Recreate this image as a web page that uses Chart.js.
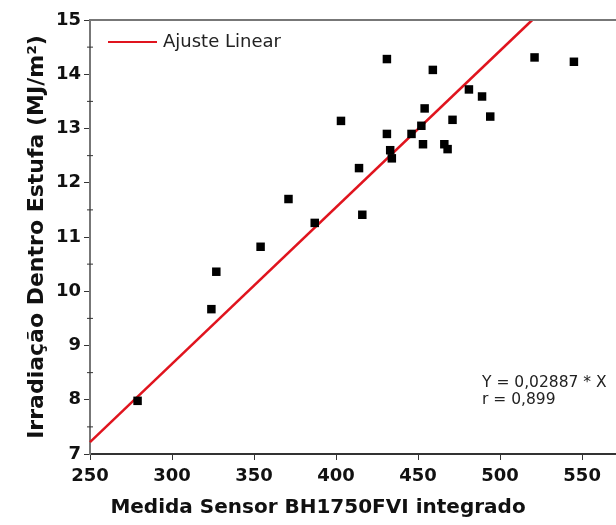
<!DOCTYPE html>
<html>
<head>
<meta charset="utf-8">
<script src="https://cdn.jsdelivr.net/npm/chart.js@4"></script>
<style>
  html, body { margin: 0; padding: 0; background: #fff; overflow: hidden; }
  canvas { display: block; }
</style>
</head>
<body>
<canvas id="scatter-chart" width="616" height="525"></canvas>
<script>
const ctx = document.getElementById("scatter-chart");

// measured points (sensor reading vs irradiation)
const sensorX = [279, 324, 327, 354, 371, 387, 416, 414, 403, 431, 459, 431, 433, 434, 446, 452,
  454, 453, 466, 468, 471, 481, 489, 494, 521, 545];
const irradY = [7.98, 9.67, 10.36, 10.82, 11.7, 11.26, 11.41, 12.27, 13.14, 14.28, 14.08, 12.9, 12.6,
  12.45, 12.9, 13.05, 13.37, 12.71, 12.71, 12.62, 13.16, 13.72, 13.59, 13.22, 14.31, 14.23];

// fitted line end points (Y = 0,02887 * X)
const fitX = [250, 519.6];
const fitY = [7.22, 15];

const xTicks = [250, 300, 350, 400, 450, 500, 550];
const yTicks = [7, 8, 9, 10, 11, 12, 13, 14, 15];

const xTitle = "Medida Sensor BH1750FVI integrado";
const yTitle = "Irradiação Dentro Estufa (MJ/m²)";

const Config = {
  colors: {
    point: "#000000",
    fit: "#e0141e",
    axis: "#333333",
    axisLight: "#777777",
    text: "#111111",
  },
  font: `"DejaVu Sans", sans-serif`,
};

Chart.defaults.font.family = Config.font;
Chart.defaults.color = Config.colors.text;

const frame = {
  id: "frame",
  afterDraw(chart) {
    const c = chart.ctx;
    const { left, right, top, bottom } = chart.chartArea;
    const ys = chart.scales.y;
    c.save();
    // top border, runs off the right edge like the original
    c.strokeStyle = Config.colors.axisLight;
    c.lineWidth = 2;
    c.beginPath();
    c.moveTo(left, top);
    c.lineTo(chart.width, top);
    c.stroke();
    c.strokeStyle = Config.colors.axis;
    c.beginPath();
    c.moveTo(right - 1, bottom);
    c.lineTo(chart.width, bottom);
    c.stroke();
    // minor ticks on the y axis
    c.lineWidth = 1;
    for (let i = 0; i < yTicks.length - 1; i++) {
      const py = ys.getPixelForValue(yTicks[i] + 0.5);
      c.beginPath();
      c.moveTo(left - 3, py);
      c.lineTo(left + 3, py);
      c.stroke();
    }
    // legend
    c.strokeStyle = Config.colors.fit;
    c.lineWidth = 2;
    c.beginPath();
    c.moveTo(108, 42);
    c.lineTo(157, 42);
    c.stroke();
    c.fillStyle = "#222";
    c.font = `18px ${Config.font}`;
    c.textBaseline = "middle";
    c.fillText(chart.data.datasets[1].label, 163, 42);
    // equation note
    c.font = `15.5px ${Config.font}`;
    c.fillText("Y = 0,02887 * X", 482, 383);
    c.fillText("r = 0,899", 482, 400);
    // x axis title (sits left of the axis centre in the original)
    c.fillStyle = Config.colors.text;
    c.font = `bold 20px ${Config.font}`;
    c.textAlign = "center";
    c.fillText(xTitle, 318, 508);
    c.restore();
  },
};

new Chart(ctx, {
  type: "scatter",
  data: {
    datasets: [
      {
        label: "Dados",
        data: sensorX.map((x, i) => ({ x, y: irradY[i] })),
        pointStyle: "rect",
        pointRadius: 6,
        backgroundColor: Config.colors.point,
        borderColor: Config.colors.point,
        borderWidth: 0,
      },
      {
        type: "line",
        label: "Ajuste Linear",
        data: fitX.map((x, i) => ({ x, y: fitY[i] })),
        borderColor: Config.colors.fit,
        borderWidth: 2.5,
        pointRadius: 0,
        fill: false,
      },
    ],
  },
  options: {
    responsive: false,
    animation: false,
    clip: false,
    layout: { padding: { top: 20, left: 0, right: 0, bottom: 0 } },
    plugins: {
      legend: { display: false },
      tooltip: { enabled: false },
    },
    scales: {
      x: {
        type: "linear",
        min: 250,
        max: 567,
        afterBuildTicks: (scale) => {
          scale.ticks = xTicks.map((v) => ({ value: v }));
        },
        afterFit: (scale) => {
          scale.height = 71;
        },
        ticks: {
          font: { size: 18, weight: "bold" },
          color: Config.colors.text,
          padding: 6,
          maxRotation: 0,
        },
        grid: {
          drawOnChartArea: false,
          tickLength: 6,
          color: Config.colors.axis,
        },
        border: { color: Config.colors.axis, width: 2 },
      },
      y: {
        type: "linear",
        min: 7,
        max: 15,
        afterBuildTicks: (scale) => {
          scale.ticks = yTicks.map((v) => ({ value: v }));
        },
        afterFit: (scale) => {
          scale.width = 90;
        },
        ticks: {
          font: { size: 18, weight: "bold" },
          color: Config.colors.text,
          padding: 3,
        },
        grid: {
          drawOnChartArea: false,
          tickLength: 6,
          color: Config.colors.axis,
        },
        border: { color: Config.colors.axisLight, width: 2 },
        title: {
          display: true,
          text: yTitle,
          font: { size: 22, weight: "bold" },
          color: Config.colors.text,
          padding: { top: 24, bottom: 0 },
        },
      },
    },
  },
  plugins: [frame],
});
</script>
</body>
</html>
